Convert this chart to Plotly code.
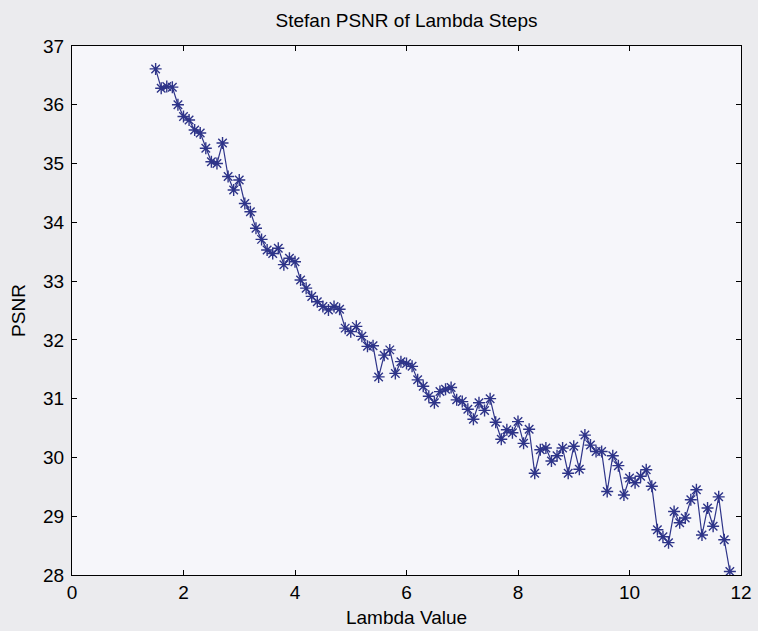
import plotly.graph_objects as go

lambda_values = [
    1.5, 1.6, 1.7, 1.8, 1.9, 2.0, 2.1, 2.2, 2.3, 2.4,
    2.5, 2.6, 2.7, 2.8, 2.9, 3.0, 3.1, 3.2, 3.3, 3.4,
    3.5, 3.6, 3.7, 3.8, 3.9, 4.0, 4.1, 4.2, 4.3, 4.4,
    4.5, 4.6, 4.7, 4.8, 4.9, 5.0, 5.1, 5.2, 5.3, 5.4,
    5.5, 5.6, 5.7, 5.8, 5.9, 6.0, 6.1, 6.2, 6.3, 6.4,
    6.5, 6.6, 6.7, 6.8, 6.9, 7.0, 7.1, 7.2, 7.3, 7.4,
    7.5, 7.6, 7.7, 7.8, 7.9, 8.0, 8.1, 8.2, 8.3, 8.4,
    8.5, 8.6, 8.7, 8.8, 8.9, 9.0, 9.1, 9.2, 9.3, 9.4,
    9.5, 9.6, 9.7, 9.8, 9.9, 10.0, 10.1, 10.2, 10.3, 10.4,
    10.5, 10.6, 10.7, 10.8, 10.9, 11.0, 11.1, 11.2, 11.3, 11.4,
    11.5, 11.6, 11.7, 11.8,
]

psnr_values = [
    36.61, 36.28, 36.31, 36.30, 36.00, 35.80, 35.74, 35.57, 35.52, 35.26,
    35.03, 35.00, 35.35, 34.78, 34.55, 34.72, 34.32, 34.18, 33.90, 33.71,
    33.53, 33.47, 33.56, 33.28, 33.39, 33.33, 33.02, 32.88, 32.74, 32.65,
    32.57, 32.51, 32.57, 32.52, 32.20, 32.14, 32.23, 32.06, 31.89, 31.90,
    31.37, 31.74, 31.83, 31.43, 31.63, 31.60, 31.55, 31.32, 31.21, 31.04,
    30.93, 31.12, 31.16, 31.19, 30.98, 30.95, 30.82, 30.65, 30.93, 30.80,
    31.00, 30.60, 30.31, 30.47, 30.42, 30.61, 30.24, 30.48, 29.73, 30.13,
    30.16, 29.94, 30.03, 30.16, 29.73, 30.19, 29.80, 30.38, 30.21, 30.10,
    30.10, 29.42, 30.03, 29.86, 29.36, 29.65, 29.57, 29.68, 29.79, 29.51,
    28.77, 28.65, 28.55, 29.08, 28.89, 28.97, 29.28, 29.45, 28.68, 29.14,
    28.83, 29.33, 28.60, 28.06,
]

x_ticks = [0, 2, 4, 6, 8, 10, 12]
y_ticks = [28, 29, 30, 31, 32, 33, 34, 35, 36, 37]

title_text = "Stefan PSNR of Lambda Steps"
x_title = "Lambda Value"
y_title = "PSNR"

line_color = "#2e3489"
font_family = "Liberation Sans, Arial, sans-serif"
fs = 19

fig = go.Figure(
    go.Scatter(
        x=lambda_values,
        y=psnr_values,
        mode="lines+markers",
        line=dict(color=line_color, width=1.2),
        marker=dict(symbol="asterisk-open", size=10,
                    color=line_color, line=dict(color=line_color, width=1.4)),
        showlegend=False,
    )
)

axis_common = dict(
    showgrid=False,
    zeroline=False,
    showline=True,
    linecolor="#000000",
    linewidth=1,
    mirror="allticks",
    ticks="inside",
    ticklen=5,
    tickcolor="#000000",
    automargin=False,
    tickfont=dict(family=font_family, size=fs, color="#000000"),
)

fig.update_layout(
    width=758,
    height=631,
    margin=dict(l=72, r=17, t=46, b=56),
    paper_bgcolor="#ebebee",
    plot_bgcolor="#f6f6fa",
    font=dict(family=font_family, color="#000000"),
    title=dict(text=title_text, x=0.5, xref="paper", xanchor="center",
               y=1 - 20 / 631, yref="container", yanchor="middle",
               font=dict(family=font_family, size=fs, color="#000000")),
    xaxis=dict(range=[0, 12], tickvals=x_ticks,
               title=dict(text=x_title, standoff=8,
                          font=dict(family=font_family, size=fs)),
               **axis_common),
    yaxis=dict(range=[28, 37], tickvals=y_ticks, ticklabelstandoff=3,
               title=dict(text=y_title, standoff=12,
                          font=dict(family=font_family, size=fs)),
               **axis_common),
)

fig.write_html("out.html")
